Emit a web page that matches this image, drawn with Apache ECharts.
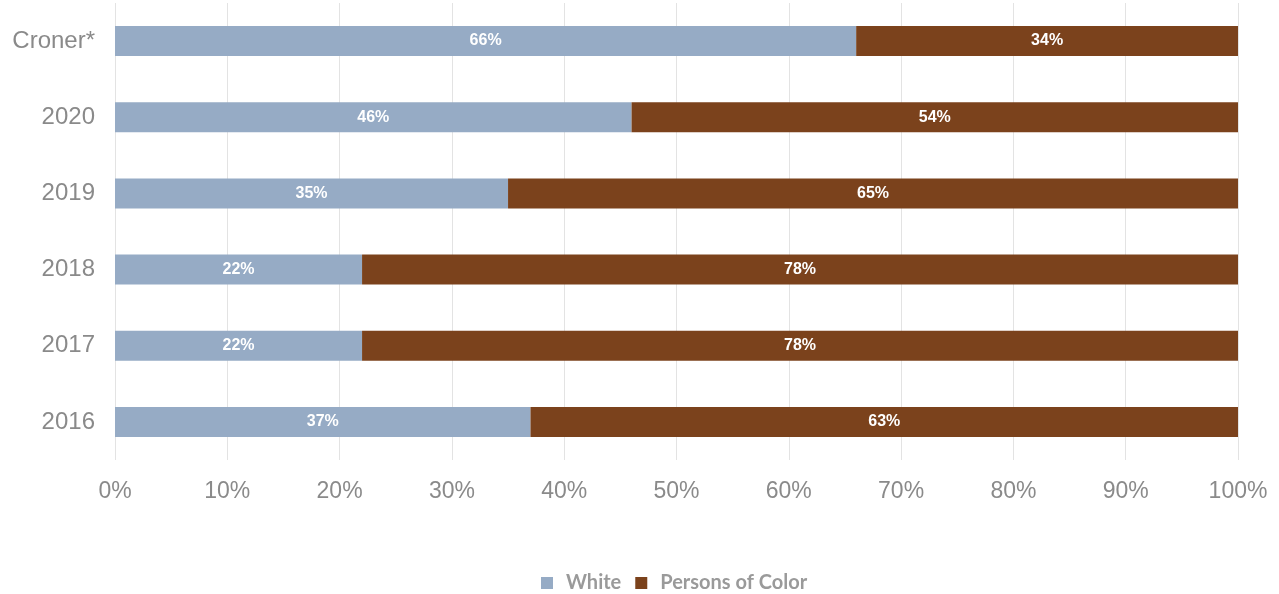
<!DOCTYPE html>
<html>
<head>
<meta charset="utf-8">
<script src="https://cdn.jsdelivr.net/npm/echarts@6/dist/echarts.min.js"></script>
<style>html,body{margin:0;padding:0;background:#fff;}#c{width:1279px;height:594px;}</style>
</head>
<body>
<div id="c"></div>
<script>
const categories = ['Croner*', '2020', '2019', '2018', '2017', '2016'];
const white = [66, 46, 35, 22, 22, 37];
const personsOfColor = [34, 54, 65, 78, 78, 63];
const xTicks = [0, 10, 20, 30, 40, 50, 60, 70, 80, 90, 100];

const chart = echarts.init(document.getElementById('c'));
const lbl = {
  show: true, position: 'inside', color: '#fff', fontWeight: 'bold',
  fontSize: 16, fontFamily: 'Liberation Sans, Arial, sans-serif',
  formatter: p => p.value + '%'
};
chart.setOption({
  animation: false,
  grid: { left: 115, right: 41, top: 3, bottom: 134 },
  legend: {
    top: 568, left: 536, itemWidth: 12, itemHeight: 12, itemGap: 14,
    icon: 'rect',
    formatter: n => '{t|' + n + '}',
    textStyle: { color: '#9a9a9a', fontSize: 20, fontWeight: 'bold', fontFamily: 'Lato, Open Sans, sans-serif',
      rich: { t: { padding: [0, 0, 0, 8], color: '#9a9a9a', fontSize: 20, fontWeight: 'bold', fontFamily: 'Lato, Open Sans, sans-serif' } } },
    data: ['White', 'Persons of Color']
  },
  xAxis: {
    type: 'value', min: 0, max: 100, interval: 10,
    axisLine: { show: false }, axisTick: { show: false },
    splitLine: { lineStyle: { color: '#e3e3e3' } },
    axisLabel: { color: '#8a8a8a', fontSize: 23, margin: 20, fontFamily: 'Liberation Sans, Arial, sans-serif',
      formatter: v => xTicks.includes(v) ? v + '%' : '' }
  },
  yAxis: {
    type: 'category', data: categories, inverse: true,
    axisLine: { show: false }, axisTick: { show: false },
    axisLabel: { color: '#8a8a8a', fontSize: 24, margin: 20, fontFamily: 'Liberation Sans, Arial, sans-serif' }
  },
  series: [
    { name: 'White', type: 'bar', stack: 's', data: white, barWidth: 30,
      itemStyle: { color: '#96abc5' }, label: lbl },
    { name: 'Persons of Color', type: 'bar', stack: 's', data: personsOfColor, barWidth: 30,
      itemStyle: { color: '#7b421c' }, label: lbl }
  ]
});
</script>
</body>
</html>
